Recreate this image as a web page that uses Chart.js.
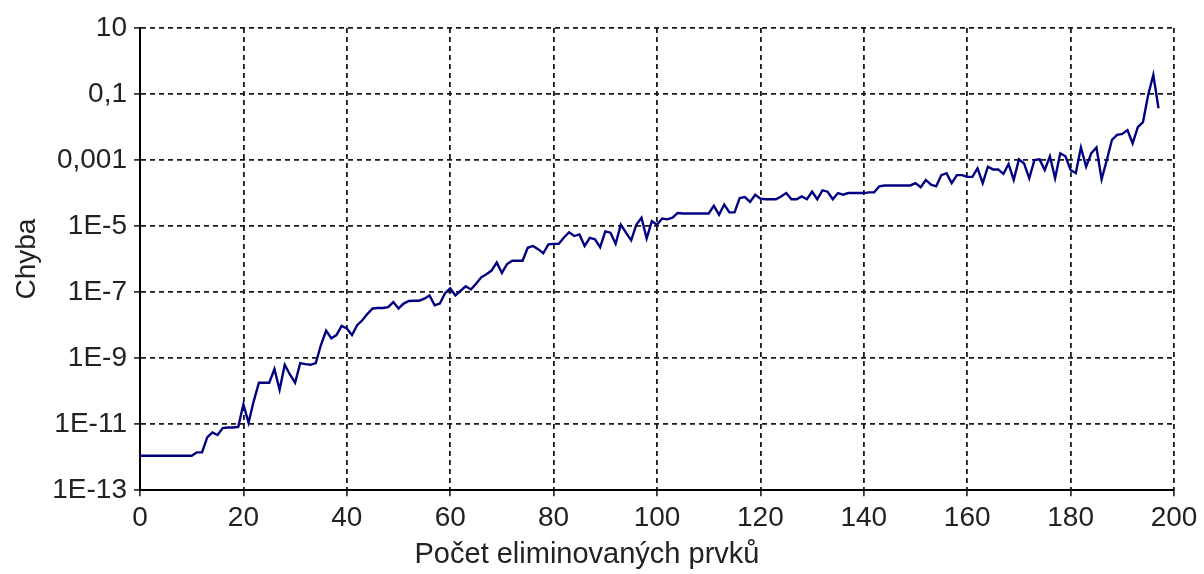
<!DOCTYPE html>
<html>
<head>
<meta charset="utf-8">
<script src="https://cdn.jsdelivr.net/npm/chart.js@4"></script>
<style>
  html, body { margin: 0; padding: 0; background: #fff; }
  canvas { display: block; }
</style>
</head>
<body>
<canvas id="chart" width="1204" height="574"></canvas>
<script>
// chyba po eliminaci n prvků (x = 0..197)
const errors = [
    1.1e-12, 1.1e-12, 1.1e-12, 1.1e-12, 1.1e-12, 1.1e-12, 1.1e-12, 1.1e-12, 1.1e-12, 1.1e-12,
    1.1e-12, 1.4e-12, 1.4e-12, 4.0e-12, 5.6e-12, 4.7e-12, 7.6e-12, 7.9e-12, 7.9e-12, 8.3e-12,
    4.0e-11, 1.1e-11, 5.0e-11, 1.8e-10, 1.8e-10, 1.8e-10, 4.7e-10, 1.1e-10, 6.3e-10, 3.2e-10,
    1.8e-10, 7.1e-10, 6.6e-10, 6.3e-10, 7.1e-10, 2.5e-9, 6.8e-9, 4.0e-9, 5.0e-9, 9.5e-9,
    7.9e-9, 5.0e-9, 1.0e-8, 1.4e-8, 2.2e-8, 3.2e-8, 3.3e-8, 3.3e-8, 3.5e-8, 5.0e-8,
    3.2e-8, 4.5e-8, 5.4e-8, 5.5e-8, 5.5e-8, 6.3e-8, 7.9e-8, 4.0e-8, 4.5e-8, 9.3e-8,
    1.3e-7, 7.9e-8, 1.1e-7, 1.5e-7, 1.2e-7, 1.8e-7, 2.8e-7, 3.5e-7, 4.5e-7, 7.9e-7,
    3.8e-7, 7.1e-7, 8.9e-7, 8.9e-7, 8.9e-7, 2.2e-6, 2.5e-6, 2.0e-6, 1.5e-6, 2.8e-6,
    2.9e-6, 2.9e-6, 4.5e-6, 6.5e-6, 5.0e-6, 5.6e-6, 2.5e-6, 4.4e-6, 4.0e-6, 2.3e-6,
    6.9e-6, 6.3e-6, 2.9e-6, 1.1e-5, 6.3e-6, 3.7e-6, 1.1e-5, 1.8e-5, 4.2e-6, 1.4e-5,
    1.1e-5, 1.7e-5, 1.6e-5, 1.8e-5, 2.5e-5, 2.4e-5, 2.4e-5, 2.4e-5, 2.4e-5, 2.4e-5,
    2.4e-5, 4.1e-5, 2.2e-5, 4.5e-5, 2.6e-5, 2.6e-5, 7.1e-5, 7.6e-5, 5.4e-5, 8.9e-5,
    6.8e-5, 6.5e-5, 6.5e-5, 6.5e-5, 7.9e-5, 1.0e-4, 6.5e-5, 6.5e-5, 7.9e-5, 6.5e-5,
    1.1e-4, 6.5e-5, 1.2e-4, 1.1e-4, 6.5e-5, 1.0e-4, 8.9e-5, 1.0e-4, 1.0e-4, 1.0e-4,
    1.0e-4, 1.05e-4, 1.05e-4, 1.6e-4, 1.7e-4, 1.7e-4, 1.7e-4, 1.7e-4, 1.7e-4, 1.7e-4,
    2.0e-4, 1.5e-4, 2.5e-4, 1.8e-4, 1.6e-4, 3.5e-4, 4.0e-4, 2.0e-4, 3.5e-4, 3.5e-4,
    3.1e-4, 3.1e-4, 5.6e-4, 2.0e-4, 6.3e-4, 5.2e-4, 5.2e-4, 3.8e-4, 7.6e-4, 2.5e-4,
    1.05e-3, 7.9e-4, 2.8e-4, 1.0e-3, 1.05e-3, 5.0e-4, 1.3e-3, 2.8e-4, 1.6e-3, 1.3e-3,
    5.0e-4, 4.0e-4, 2.4e-3, 6.3e-4, 1.6e-3, 2.4e-3, 2.6e-4, 1.0e-3, 4.1e-3, 5.8e-3,
    6.2e-3, 8.1e-3, 3.2e-3, 1.0e-2, 1.4e-2, 0.093, 0.38, 0.037
];

const yTickValues = [1e-13, 1e-11, 1e-9, 1e-7, 1e-5, 1e-3, 0.1, 10];
const yTickLabels = ["1E-13", "1E-11", "1E-9", "1E-7", "1E-5", "0,001", "0,1", "10"];

const xMin = 0;
const xMax = 200;
const xStep = 20;

const points = errors.map((v, i) => ({ x: i, y: v }));

const FONT = "'Liberation Sans', Arial, sans-serif";

new Chart(document.getElementById("chart").getContext("2d"), {
    type: "line",
    data: {
        datasets: [{
            data: points,
            borderColor: "#000080",
            borderWidth: 2.4,
            pointRadius: 0,
            fill: false,
            tension: 0
        }]
    },
    options: {
        responsive: false,
        animation: false,
        layout: { padding: { left: 0, right: 30, top: 28, bottom: 0 } },
        plugins: {
            legend: { display: false },
            tooltip: { enabled: false },
            title: {
                display: true,
                position: "bottom",
                text: "Počet eliminovaných prvků",
                color: "#222",
                font: { family: FONT, size: 29, weight: "normal" },
                padding: { top: 0, bottom: 2 }
            }
        },
        scales: {
            x: {
                type: "linear",
                min: xMin,
                max: xMax,
                afterFit: s => { s.height = 47; },
                ticks: {
                    stepSize: xStep,
                    maxRotation: 0,
                    padding: 5,
                    color: "#222",
                    font: { family: FONT, size: 28 }
                },
                grid: {
                    color: "#1a1a1a",
                    lineWidth: 1.8,
                    tickLength: 6,
                    tickColor: "#111",
                    tickWidth: 1.5
                },
                border: { color: "#000", width: 2, dash: [5, 4] }
            },
            y: {
                type: "logarithmic",
                min: 1e-13,
                max: 10,
                afterFit: s => { s.width = 140; },
                afterBuildTicks: s => { s.ticks = yTickValues.map(v => ({ value: v })); },
                ticks: {
                    autoSkip: false,
                    padding: 7,
                    color: "#222",
                    font: { family: FONT, size: 28 },
                    callback: (v, i) => yTickLabels[i]
                },
                grid: {
                    color: "#1a1a1a",
                    lineWidth: 1.8,
                    tickLength: 6,
                    tickColor: "#111",
                    tickWidth: 1.5
                },
                border: { color: "#000", width: 2, dash: [5, 4] },
                title: {
                    display: true,
                    text: "Chyba",
                    color: "#222",
                    font: { family: FONT, size: 28 },
                    padding: { top: 10, bottom: 0 }
                }
            }
        }
    }
});
</script>
</body>
</html>
